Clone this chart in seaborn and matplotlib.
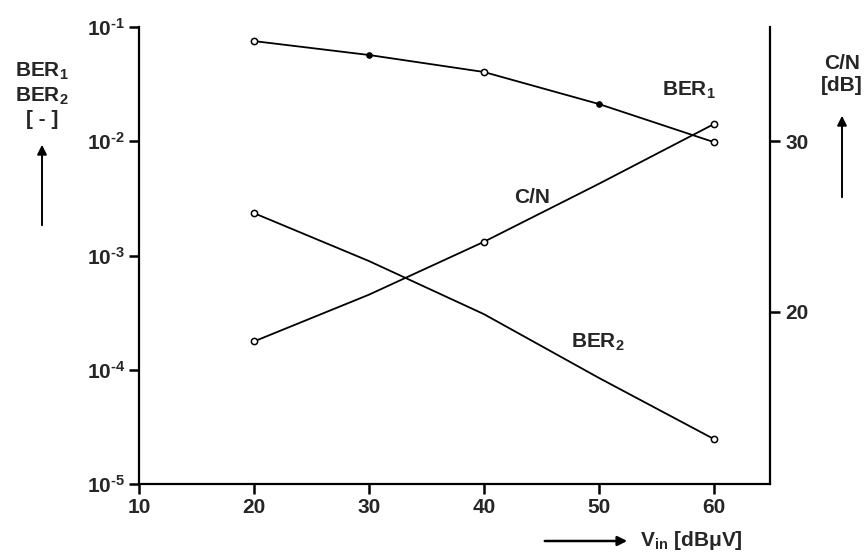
import numpy as np
import pandas as pd
import matplotlib
matplotlib.use("Agg")
import matplotlib.pyplot as plt
import seaborn as sns

# ---- data ----
vin = [20, 30, 40, 50, 60]
ber1 = [0.0753, 0.0569, 0.0404, 0.0212, 0.00984]
ber2 = [2.35e-3, 8.95e-4, 3.07e-4, 8.5e-5, 2.48e-5]
cn_db = [18.26, 21.0, 24.1, 27.5, 31.0]
ber_ticks = [1e-5, 1e-4, 1e-3, 1e-2, 1e-1]
ber_ticklabels = [r"$10^{\text{-5}}$", r"$10^{\text{-4}}$", r"$10^{\text{-3}}$",
                  r"$10^{\text{-2}}$", r"$10^{\text{-1}}$"]
x_ticks = [10, 20, 30, 40, 50, 60]
cn_ticks = [20, 30]

sns.set_style("ticks")
plt.rcParams["font.family"] = ["Liberation Sans", "DejaVu Sans"]
plt.rcParams["font.weight"] = "bold"
plt.rcParams["mathtext.fontset"] = "custom"
plt.rcParams["mathtext.rm"] = "Liberation Sans:bold"
plt.rcParams["mathtext.it"] = "Liberation Sans:bold"
plt.rcParams["mathtext.bf"] = "Liberation Sans:bold"

df = pd.DataFrame({"vin": vin, "ber1": ber1, "ber2": ber2, "cn": cn_db})

fig = plt.figure(figsize=(8.68, 5.57), dpi=100)
ax = fig.add_axes([139 / 868, 73 / 557, (770 - 139) / 868, (484 - 27) / 557])
ax2 = ax.twinx()

lw = 1.3
mk = dict(marker="o", markersize=4.5, markerfacecolor="white",
          markeredgecolor="black", markeredgewidth=1.1)

sns.lineplot(data=df, x="vin", y="ber1", ax=ax, color="black", linewidth=lw,
             markevery=[0, 2, 4], **mk)
sns.lineplot(data=df, x="vin", y="ber1", ax=ax, color="black", linewidth=0,
             marker="o", markersize=4, markerfacecolor="black",
             markeredgecolor="black", markevery=[1, 3])
sns.lineplot(data=df, x="vin", y="ber2", ax=ax, color="black", linewidth=lw,
             markevery=[0, 4], **mk)
sns.lineplot(data=df, x="vin", y="cn", ax=ax2, color="black", linewidth=lw,
             markevery=[0, 2, 4], **mk)

ax.set_yscale("log")
ax.set_xlim(10, 64.9)
ax.set_ylim(1e-5, 1e-1)
ax2.set_ylim(9.9, 36.7)

ax.set_xticks(x_ticks)
ax.set_xticklabels([str(t) for t in x_ticks])
ax.set_yticks(ber_ticks)
ax.set_yticklabels(ber_ticklabels)
ax.yaxis.set_minor_locator(matplotlib.ticker.NullLocator())
ax2.set_yticks(cn_ticks)
ax2.set_yticklabels([str(t) for t in cn_ticks])

ax.set_xlabel("")
ax.set_ylabel("")
ax2.set_ylabel("")

for a in (ax, ax2):
    for s in a.spines.values():
        s.set_linewidth(1.6)
        s.set_color("black")
    a.spines["top"].set_visible(False)
ax.spines["right"].set_visible(False)
ax2.spines["left"].set_visible(False)
ax2.spines["bottom"].set_visible(False)

ax.tick_params(axis="both", which="major", length=7, width=1.8, labelsize=15,
               color="black", pad=3)
ax2.tick_params(axis="y", which="major", length=7, width=1.8, labelsize=15,
                color="black", pad=4)

# curve labels
ax.text(0.872, 0.862, r"BER$_1$", transform=ax.transAxes, fontsize=15,
        ha="center", va="center")
ax.text(0.623, 0.626, "C/N", transform=ax.transAxes, fontsize=15,
        ha="center", va="center")
ax.text(0.727, 0.309, r"BER$_2$", transform=ax.transAxes, fontsize=15,
        ha="center", va="center")

# axis labels with arrows
fig.text(42 / 868, 1 - 95 / 557, "BER$_1$\nBER$_2$\n[ - ]", fontsize=15,
         ha="center", va="center", linespacing=1.2)
fig.add_artist(matplotlib.patches.FancyArrowPatch(
    (42 / 868, 1 - 228 / 557), (42 / 868, 1 - 142 / 557),
    transform=fig.transFigure, arrowstyle="-|>", mutation_scale=14,
    color="black", linewidth=1.4))

fig.text(842 / 868, 1 - 75 / 557, "C/N\n[dB]", fontsize=15,
         ha="center", va="center", linespacing=1.2)
fig.add_artist(matplotlib.patches.FancyArrowPatch(
    (842 / 868, 1 - 200 / 557), (842 / 868, 1 - 113 / 557),
    transform=fig.transFigure, arrowstyle="-|>", mutation_scale=14,
    color="black", linewidth=1.4))

fig.add_artist(matplotlib.patches.FancyArrowPatch(
    (542 / 868, 1 - 541 / 557), (630 / 868, 1 - 541 / 557),
    transform=fig.transFigure, arrowstyle="-|>", mutation_scale=14,
    color="black", linewidth=1.8))
fig.text(640 / 868, 1 - 541 / 557, r"V$_{\mathrm{in}}$ [dB$\mathrm{\mu}$V]",
         fontsize=15, ha="left", va="center")

fig.savefig("out.png", dpi=100, facecolor="white")
